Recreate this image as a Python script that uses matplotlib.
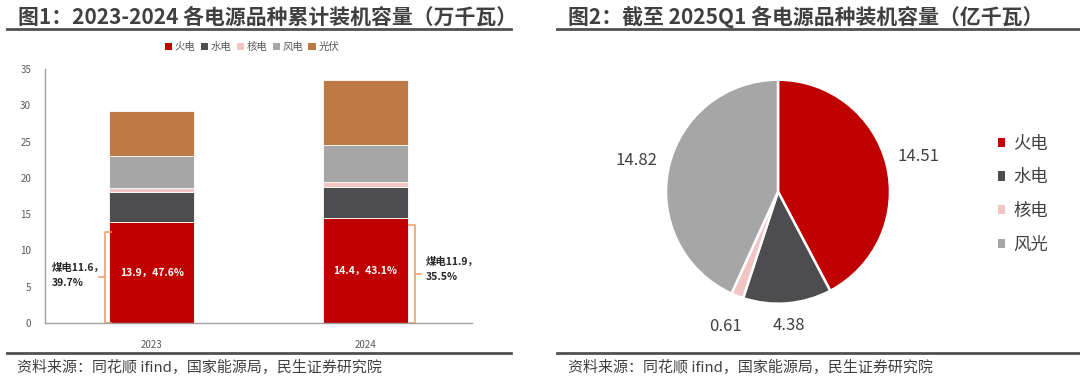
import matplotlib
matplotlib.use("Agg")
import matplotlib.pyplot as plt
from matplotlib.patches import Patch
import numpy as np

plt.rcParams['font.family'] = ['Noto Sans CJK SC', 'DejaVu Sans']

# ---------------- data ----------------
years = ["2023", "2024"]
bar_series = ["火电", "水电", "核电", "风电", "光伏"]
thermal = [13.9, 14.4]
hydro = [4.2, 4.36]
nuclear = [0.57, 0.61]
wind = [4.4, 5.21]
solar = [6.1, 8.95]
thermal_share = ["47.6%", "43.1%"]
coal = [11.6, 11.9]
coal_share = ["39.7%", "35.5%"]
brace_top = [12.6, 13.5]

pie_labels = ["火电", "水电", "核电", "风光"]
pie_values = [14.51, 4.38, 0.61, 14.82]

bar_colors = ["#C00000", "#4D4D4F", "#F2C4C4", "#A6A6A6", "#BE7843"]
pie_colors = ["#C00000", "#4D4D4F", "#F2C4C4", "#A6A6A6"]
brace_color = "#F4A064"
title_color = "#404040"
grey_text = "#595959"

fig = plt.figure(figsize=(10.8, 3.76), dpi=100)

# ---------------- titles & decoration ----------------
fig.text(18/1080, 1-17/376, "图1：2023-2024 各电源品种累计装机容量（万千瓦）",
         fontsize=15, fontweight='bold', color=title_color, va='center', ha='left')
fig.text(568/1080, 1-17/376, "图2：截至 2025Q1 各电源品种装机容量（亿千瓦）",
         fontsize=15, fontweight='bold', color=title_color, va='center', ha='left')
for x0, x1 in [(7, 511), (557, 1080)]:
    fig.add_artist(plt.Line2D([x0/1080, x1/1080], [1-28.5/376]*2, color="#505050", lw=2))
    fig.add_artist(plt.Line2D([x0/1080, x1/1080], [1-353/376]*2, color="#505050", lw=2))
fig.text(17/1080, 1-367/376, "资料来源：同花顺 ifind，国家能源局，民生证券研究院",
         fontsize=10.8, color=title_color, va='center', ha='left')
fig.text(568/1080, 1-367/376, "资料来源：同花顺 ifind，国家能源局，民生证券研究院",
         fontsize=10.8, color=title_color, va='center', ha='left')

# ---------------- bar chart ----------------
ax = fig.add_axes([45/1080, 1-323/376, 427/1080, 254/376])
x = np.arange(len(years))
w = 0.4
bottom = np.zeros(len(years))
stack = [thermal, hydro, nuclear, wind, solar]
for name, vals, col in zip(bar_series, stack, bar_colors):
    ax.bar(x, vals, w, bottom=bottom, color=col, label=name,
           edgecolor='white', linewidth=0.6)
    bottom += np.array(vals)

ax.set_xlim(-0.5, 1.5)
ax.set_ylim(0, 35)
ax.set_yticks(np.arange(0, 36, 5))
ax.set_xticks(x)
ax.set_xticklabels(years)
ax.tick_params(axis='both', length=0, labelsize=7, colors=grey_text, pad=12)
ax.tick_params(axis='y', pad=10)
for s in ['top', 'right']:
    ax.spines[s].set_visible(False)
for s in ['left', 'bottom']:
    ax.spines[s].set_color("#A0A0A0")
    ax.spines[s].set_linewidth(1)

for i in range(len(years)):
    ax.text(x[i], thermal[i]/2, f"{thermal[i]}，{thermal_share[i]}", color='white',
            fontsize=7.5, fontweight='bold', ha='center', va='center')

# braces
def brace(ax, xline, direction, top):
    hook = 0.03 * direction
    notch = -0.028 * direction
    ax.plot([xline + hook, xline, xline, xline + hook], [top, top, 0.05, 0.05],
            color=brace_color, lw=1.2, solid_joinstyle='round', clip_on=False)
    ax.plot([xline, xline + notch], [top/2, top/2], color=brace_color, lw=1.2, clip_on=False)

brace(ax, x[0] - 0.22, 1, brace_top[0])
brace(ax, x[1] + 0.235, -1, brace_top[1])
ax.text(x[0] - 0.47, brace_top[0]/2 + 0.3, f"煤电{coal[0]}，\n{coal_share[0]}",
        fontsize=7.5, fontweight='bold', color='#262626', ha='left', va='center', linespacing=1.6)
ax.text(x[1] + 0.285, brace_top[1]/2 + 0.6, f"煤电{coal[1]}，\n{coal_share[1]}",
        fontsize=7.5, fontweight='bold', color='#262626', ha='left', va='center', linespacing=1.6)

handles = [Patch(facecolor=c, label=n) for n, c in zip(bar_series, bar_colors)]
fig.legend(handles=handles, loc='center', bbox_to_anchor=(252/1080, 1-47/376), ncol=5,
           frameon=False, fontsize=7.5, handlelength=0.7, handleheight=0.7,
           handletextpad=0.25, columnspacing=0.5, labelcolor=grey_text)

# ---------------- pie chart ----------------
pax = fig.add_axes([(778-112)/1080, 1-(191.7+112)/376, 224/1080, 224/376])
wedges, texts = pax.pie(pie_values, labels=[f"{v:.2f}" for v in pie_values],
                        colors=pie_colors, startangle=90, counterclock=False,
                        labeldistance=1.29,
                        wedgeprops=dict(edgecolor='white', linewidth=1.8),
                        textprops=dict(fontsize=12, color=title_color))
for t in texts:
    t.set_ha('center')
    t.set_va('center')
texts[1].set_position(np.array(texts[1].get_position()) * 1.2 / 1.29)
pax.set_xlim(-1, 1)
pax.set_ylim(-1, 1)
pax.set_aspect('equal')

ph = [Patch(facecolor=c, label=n) for n, c in zip(pie_labels, pie_colors)]
fig.legend(handles=ph, loc='upper left', bbox_to_anchor=(982/1080, 1-119/376),
           frameon=False, fontsize=12.5, handlelength=0.45, handleheight=0.45,
           handletextpad=0.45, labelspacing=0.9, labelcolor=title_color)

fig.savefig("out.png", dpi=100)
